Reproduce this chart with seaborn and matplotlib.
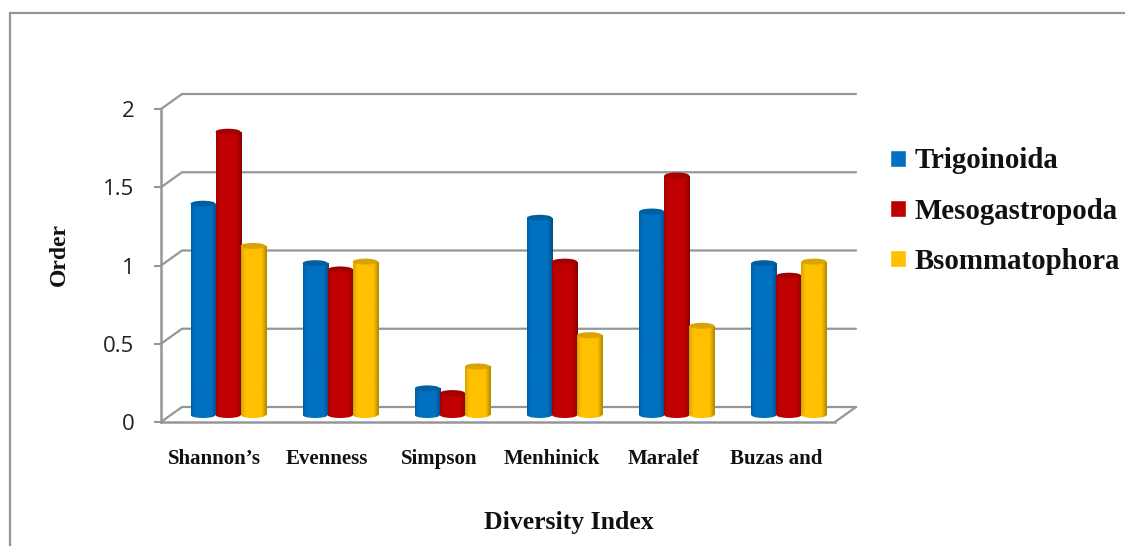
import numpy as np
import pandas as pd
import matplotlib
matplotlib.use("Agg")
import matplotlib.pyplot as plt
import seaborn as sns
from matplotlib.colors import LinearSegmentedColormap, to_rgb
from matplotlib.lines import Line2D
from matplotlib.patches import Ellipse, Rectangle
from matplotlib.transforms import ScaledTranslation

# values
indices = ["Shannon\u2019s", "Evenness", "Simpson", "Menhinick", "Maralef", "Buzas and"]
trigoinoida = [1.35, 0.97, 0.17, 1.26, 1.30, 0.97]
mesogastropoda = [1.81, 0.93, 0.14, 0.98, 1.53, 0.89]
bsommatophora = [1.08, 0.98, 0.31, 0.51, 0.57, 0.98]
orders = ["Trigoinoida", "Mesogastropoda", "Bsommatophora"]
colors = ["#0070C0", "#C00000", "#FFC000"]
y_ticks = [0, 0.5, 1, 1.5, 2]
y_labels = ["0", "0.5", "1", "1.5", "2"]

W, H = 1125, 546
GRAY = "#969696"
INK = "#111111"
SERIF = "Liberation Serif"
UNIT = 156.5  # pixels per 1.0 on the value axis

sns.set_style("white")
plt.rcParams["font.family"] = ["Open Sans", "DejaVu Sans"]

df = pd.DataFrame({
    "index": indices * 3,
    "order": np.repeat(orders, len(indices)),
    "value": trigoinoida + mesogastropoda + bsommatophora,
})


def px_axes(fig, left, right, bottom, top):
    # axes placed by image pixels, y counted from the top of the picture
    return fig.add_axes([left / W, 1 - bottom / H, (right - left) / W, (bottom - top) / H])


def body_cmap(color):
    c = np.array(to_rgb(color))
    stops = [(0.0, c * 0.85), (0.15, c), (0.8, c), (1.0, c * 0.7)]
    return LinearSegmentedColormap.from_list("body", [(p, tuple(v)) for p, v in stops])


def shaded(ax, box, cmap, clip, z):
    grad = np.linspace(0, 1, 64).reshape(1, -1)
    im = ax.imshow(grad, extent=box, cmap=cmap, aspect="auto", zorder=z, interpolation="bilinear")
    clip.set_visible(False)
    ax.add_patch(clip)
    im.set_clip_box(fig.bbox)
    im.set_clip_path(clip)


fig = plt.figure(figsize=(W / 100, H / 100), dpi=100)

# outer frame of the chart area
fig.add_artist(Rectangle((10 / W, -0.1), 1.2, 1.1 - 13 / H, transform=fig.transFigure,
                         fill=False, edgecolor=GRAY, linewidth=1.6))

# front plane carries the ticks and labels
ax_front = px_axes(fig, 161, 835, 422, 109)
ax_front.set_facecolor("none")
ax_front.set_xlim(-0.5, 5.5)
ax_front.set_ylim(0, 2)
ax_front.set_yticks(y_ticks, y_labels, fontsize=16, color="#222222")
ax_front.set_xticks(range(len(indices)), indices, family=SERIF, fontweight="bold", fontsize=15, color=INK)
ax_front.tick_params(axis="y", left=True, length=5, width=1.5, color=GRAY, pad=14)
ax_front.tick_params(axis="x", bottom=False, pad=16)
shift = ScaledTranslation(-2.5 / 100, 0, fig.dpi_scale_trans)
for lab in ax_front.get_xticklabels():
    lab.set_transform(lab.get_transform() + shift)
for side in ["top", "right"]:
    ax_front.spines[side].set_visible(False)
for side in ["left", "bottom"]:
    ax_front.spines[side].set_color(GRAY)
    ax_front.spines[side].set_linewidth(1.8)
ax_front.set_xlabel("Diversity Index", family=SERIF, fontweight="bold", fontsize=18.5, color=INK)
ax_front.xaxis.set_label_coords((569 - 161) / 674, -(522 - 422) / 313, transform=ax_front.transAxes)
ax_front.xaxis.label.set_verticalalignment("center")
ax_front.set_ylabel("Order", family=SERIF, fontweight="bold", fontsize=17, color=INK)
ax_front.yaxis.set_label_coords(-(161 - 59) / 674, (422 - 254) / 313, transform=ax_front.transAxes)
ax_front.yaxis.label.set_verticalalignment("center")

# back wall gridlines and the depth connectors
DX, DY = 21, 15
for v in y_ticks:
    x0, y0 = ax_front.transData.transform((-0.5, v))
    x1, _ = ax_front.transData.transform((5.5, v))
    fig.add_artist(Line2D([x0, x0 + DX, x1 + DX], [y0, y0 + DY, y0 + DY], transform=None,
                          color=GRAY, linewidth=1.6, zorder=-1))
x1, y0 = ax_front.transData.transform((5.5, 0))
fig.add_artist(Line2D([x1, x1 + DX], [y0, y0 + DY], transform=None, color=GRAY, linewidth=1.6, zorder=-1))

# bars stand halfway between the front plane and the back wall
ax = px_axes(fig, 172, 845, 415, 415 - 2 * UNIT)
ax.set_facecolor("none")
sns.barplot(data=df, x="index", y="value", hue="order", order=indices, hue_order=orders,
            palette=colors, width=0.67, gap=0, saturation=1, ax=ax)
ax.set_xlim(-0.5, 5.5)
ax.set_ylim(0, 2)
ax.set_axis_off()

cap_h = 6 / UNIT
for i, (container, color) in enumerate(zip(ax.containers, colors)):
    cmap = body_cmap(color)
    dark = np.array(to_rgb(color)) * 0.85
    for bar in container:
        x0, w, h = bar.get_x(), bar.get_width(), bar.get_height()
        z = 3 + i
        bar.set_visible(False)
        shaded(ax, (x0, x0 + w, 0, h), cmap, Rectangle((x0, 0), w, h, transform=ax.transData), z)
        shaded(ax, (x0, x0 + w, -cap_h, cap_h), cmap,
               Ellipse((x0 + w / 2, 0), w, cap_h, transform=ax.transData), z)
        ax.add_patch(Ellipse((x0 + w / 2, h), w, cap_h, facecolor=tuple(dark), edgecolor="none", zorder=z + 0.5))
ax.set_xlim(-0.5, 5.5)
ax.set_ylim(0, 2)

sns.move_legend(ax, "upper left", bbox_to_anchor=(865 / W, 1 - 122 / H), bbox_transform=fig.transFigure,
                title=None, frameon=False, handlelength=0.53, handleheight=0.53, handletextpad=0.29,
                borderpad=0.38, labelspacing=0.8, prop={"family": SERIF, "weight": "bold", "size": 20.8},
                labelcolor=INK)

fig.savefig("out.png", dpi=100)
